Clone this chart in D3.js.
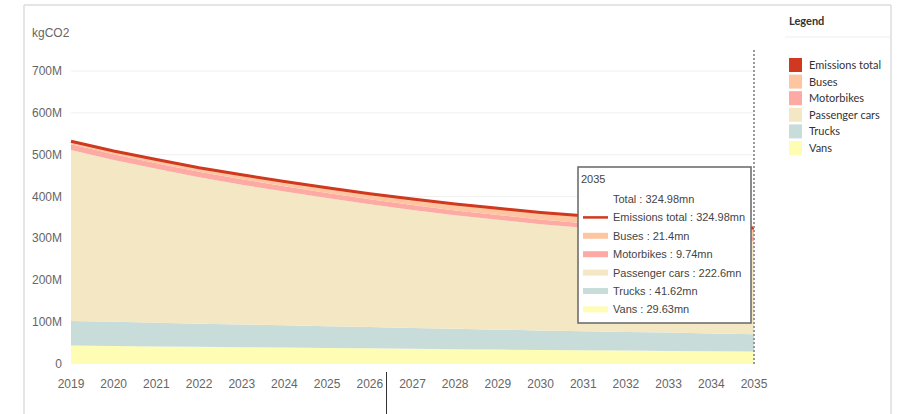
<!DOCTYPE html>
<html lang="en">
<head>
<meta charset="UTF-8">
<script src="https://cdn.jsdelivr.net/npm/d3@7"></script>
<title>Emissions</title>
<style>
    body { margin: 0; background: white; }
    svg { display: block; }
    .tick-label { font-family: "Liberation Sans", Arial, sans-serif; font-size: 12px; fill: #666; }
    .legend-text { font-family: Lato, "Noto Sans", sans-serif; font-size: 11px; fill: #333; }
    .tip-text { font-family: "Liberation Sans", Arial, sans-serif; font-size: 11px; fill: #444; }
</style>
</head>
<body>
<div id="chart"></div>
<script>
    // data
    const years = [2019, 2020, 2021, 2022, 2023, 2024, 2025, 2026, 2027, 2028, 2029, 2030, 2031, 2032, 2033, 2034, 2035];
    const vans = [44, 43, 42, 41, 40, 39.5, 38.5, 37.5, 36.5, 35.5, 34.5, 33.6, 32.8, 32, 31.2, 30.4, 29.63];
    const trucks = [59, 57.8, 56.6, 55.4, 54.2, 53, 51.9, 50.8, 49.7, 48.6, 47.6, 46.6, 45.6, 44.7, 43.8, 42.7, 41.62];
    const passengerCars = [408, 386.6, 367.7, 349.7, 334.3, 319.4, 305.9, 293.4, 281.8, 271.3, 262.7, 253.9, 247.1, 239.6, 233.7, 227.4, 222.598];
    const motorbikes = [14, 13.7, 13.4, 13.2, 12.9, 12.6, 12.3, 12.0, 11.8, 11.5, 11.2, 11.0, 10.7, 10.5, 10.2, 10.0, 9.738];
    const buses = [7, 7.9, 8.8, 9.7, 10.6, 11.5, 12.4, 13.3, 14.2, 15.1, 16, 16.9, 17.8, 18.7, 19.6, 20.5, 21.396];
    const yTicks = [0, 100, 200, 300, 400, 500, 600, 700];

    const seriesNames = ["Vans", "Trucks", "Passenger cars", "Motorbikes", "Buses"];
    const seriesValues = [vans, trucks, passengerCars, motorbikes, buses];
    const colors = {
        "Emissions total": "#d0391f",
        "Buses": "#fdc6a0",
        "Motorbikes": "#fcaaa3",
        "Passenger cars": "#f4e8c4",
        "Trucks": "#c8dcda",
        "Vans": "#fefdb3"
    };
    const legendOrder = ["Emissions total", "Buses", "Motorbikes", "Passenger cars", "Trucks", "Vans"];

    const rows = years.map((y, i) => {
        const r = { year: y };
        seriesNames.forEach((n, j) => r[n] = seriesValues[j][i]);
        r.total = d3.sum(seriesValues, s => s[i]);
        return r;
    });

    const width = 897, height = 414;
    const svg = d3.select("#chart").append("svg")
        .attr("width", width)
        .attr("height", height);

    // frame
    const frame = svg.append("g").attr("stroke", "#dcdcdc").attr("stroke-width", 1.5).attr("fill", "none");
    frame.append("line").attr("x1", 24).attr("y1", 5).attr("x2", 24).attr("y2", height);
    frame.append("line").attr("x1", 24).attr("y1", 5).attr("x2", 891).attr("y2", 5);
    frame.append("line").attr("x1", 891).attr("y1", 5).attr("x2", 891).attr("y2", height);
    svg.append("line").attr("x1", 785).attr("x2", 890).attr("y1", 37).attr("y2", 37)
        .attr("stroke", "#eeeeee").attr("stroke-width", 1);

    const x = d3.scaleLinear().domain([2019, 2035]).range([71, 754]);
    const y = d3.scaleLinear().domain([0, 700]).range([364, 71]);

    // gridlines
    svg.append("g").selectAll("line")
        .data(yTicks.filter(d => d > 0))
        .join("line")
        .attr("x1", x(2019)).attr("x2", x(2035))
        .attr("y1", d => y(d)).attr("y2", d => y(d))
        .attr("stroke", "#f0f0f0").attr("stroke-width", 1);

    // y labels
    svg.append("g").selectAll("text")
        .data(yTicks)
        .join("text")
        .attr("class", "tick-label")
        .attr("x", 62)
        .attr("y", d => y(d) + 4)
        .attr("text-anchor", "end")
        .text(d => d === 0 ? "0" : d + "M");

    svg.append("text").attr("class", "tick-label")
        .attr("x", 32).attr("y", 37)
        .text("kgCO2");

    // x labels
    svg.append("g").selectAll("text")
        .data(years)
        .join("text")
        .attr("class", "tick-label")
        .attr("x", d => x(d))
        .attr("y", 388)
        .attr("text-anchor", "middle")
        .text(d => d);

    // stacked areas
    const stack = d3.stack().keys(seriesNames);
    const stacked = stack(rows);
    const area = d3.area()
        .x(d => x(d.data.year))
        .y0(d => y(d[0]))
        .y1(d => y(d[1]));

    svg.append("g").selectAll("path")
        .data(stacked)
        .join("path")
        .attr("d", area)
        .attr("fill", d => colors[d.key]);

    // total line
    const line = d3.line()
        .x(d => x(d.year))
        .y(d => y(d.total));
    svg.append("path")
        .datum(rows)
        .attr("d", line)
        .attr("fill", "none")
        .attr("stroke", colors["Emissions total"])
        .attr("stroke-width", 3);

    // hover line
    svg.append("line")
        .attr("x1", x(2035)).attr("x2", x(2035))
        .attr("y1", 50).attr("y2", y(0))
        .attr("stroke", "#999").attr("stroke-width", 2)
        .attr("stroke-dasharray", "2,2");

    // cursor mark
    svg.append("line")
        .attr("x1", 386.5).attr("x2", 386.5)
        .attr("y1", 372).attr("y2", height)
        .attr("stroke", "#333").attr("stroke-width", 1);

    // legend
    svg.append("text")
        .attr("x", 789).attr("y", 25)
        .attr("font-family", "Lato, Noto Sans, sans-serif")
        .attr("font-size", 11).attr("font-weight", "bold").attr("fill", "#333")
        .text("Legend");

    const legend = svg.append("g").selectAll("g")
        .data(legendOrder)
        .join("g")
        .attr("transform", (d, i) => `translate(789, ${58 + i * 16.6})`);
    legend.append("rect")
        .attr("width", 13).attr("height", 14)
        .attr("fill", d => colors[d]);
    legend.append("text")
        .attr("class", "legend-text")
        .attr("x", 20).attr("y", 11)
        .text(d => d);

    // tooltip for 2035
    const last = rows[rows.length - 1];
    const tip = svg.append("g").attr("transform", "translate(578, 167)");
    tip.append("rect")
        .attr("width", 173).attr("height", 156)
        .attr("fill", "white")
        .attr("stroke", "#666").attr("stroke-width", 1.5);
    tip.append("text").attr("class", "tip-text")
        .attr("x", 3).attr("y", 16)
        .text(last.year);

    const fmt = v => (+v.toFixed(2)) + "mn";
    const tipRows = [
        { name: "Total", value: last.total, kind: "none" },
        { name: "Emissions total", value: last.total, kind: "line" },
        ...["Buses", "Motorbikes", "Passenger cars", "Trucks", "Vans"].map(n => ({ name: n, value: last[n], kind: "band" }))
    ];
    const tr = tip.selectAll("g.row")
        .data(tipRows)
        .join("g")
        .attr("class", "row")
        .attr("transform", (d, i) => `translate(0, ${32 + i * 18.4})`);
    tr.filter(d => d.kind === "line").append("line")
        .attr("x1", 5).attr("x2", 30).attr("y1", 0).attr("y2", 0)
        .attr("stroke", colors["Emissions total"]).attr("stroke-width", 2.5);
    tr.filter(d => d.kind === "band").append("rect")
        .attr("x", 5).attr("y", -3).attr("width", 25).attr("height", 6)
        .attr("fill", d => colors[d.name]);
    tr.append("text").attr("class", "tip-text")
        .attr("x", 35).attr("y", 4)
        .text(d => d.name + " : " + fmt(d.value));
</script>
</body>
</html>
